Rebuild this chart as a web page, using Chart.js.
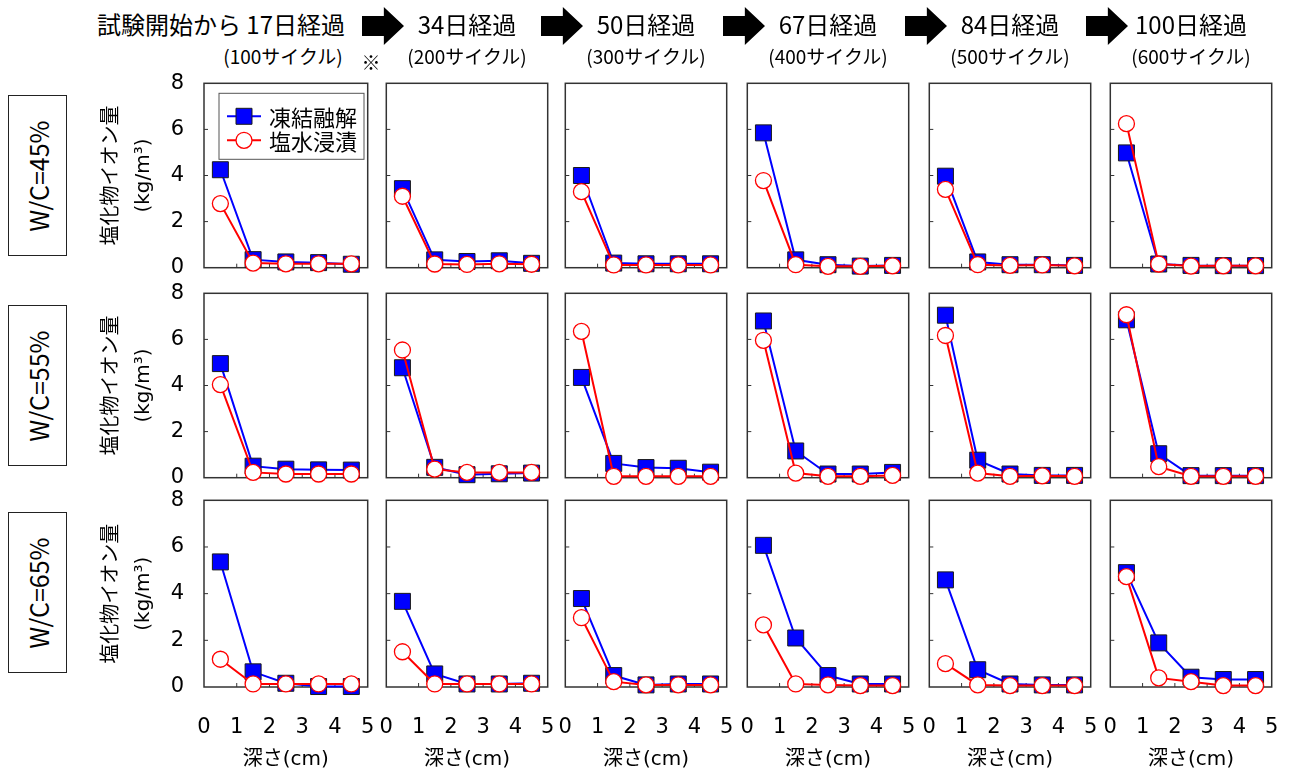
<!DOCTYPE html>
<html lang="ja">
<head>
<meta charset="utf-8">
<title>塩化物イオン量の深さ分布</title>
<script src="https://cdn.jsdelivr.net/npm/chart.js@4.4.0/dist/chart.umd.min.js"></script>
<style>
  html, body { margin: 0; padding: 0; background: #fff; }
  #page { position: relative; width: 1289px; height: 773px; overflow: hidden;
          font-family: 'Noto Sans CJK JP', sans-serif; color: #000; }
  #page canvas { position: absolute; }
  .hd { position: absolute; white-space: nowrap; line-height: 30px; }
  .hd1 { font-size: 24px; }
  .hd2 { font-size: 19px; }
  .arrow { position: absolute; width: 42px; height: 38px; background: #000;
           clip-path: polygon(0 24%, 52% 24%, 52% 0, 100% 50%, 52% 100%, 52% 76%, 0 76%); }
  .wc { position: absolute; left: 8px; width: 59px; height: 161px; border: 1.5px solid #222; box-sizing: border-box; }
  .wc span { position: absolute; left: 50%; top: 50%; transform: translate(-50%, -50%) rotate(-90deg);
             font: 25px 'Noto Sans CJK JP', sans-serif; white-space: nowrap; }
</style>
</head>
<body>
<div id="page"></div>
<script>
// ---- data ----
const depths = [0.5, 1.5, 2.5, 3.5, 4.5];          // 深さ (cm)
const elapsedDays = ['17', '34', '50', '67', '84', '100'];
const cycleCounts = ['100', '200', '300', '400', '500', '600'];
const wcLabels = ['W/C=45%', 'W/C=55%', 'W/C=65%'];
const seriesNames = ['凍結融解', '塩水浸漬'];

// 凍結融解 (blue squares), one array per elapsed period
const freezeThaw45 = [
  [4.25, 0.35, 0.25, 0.22, 0.15],
  [3.43, 0.34, 0.27, 0.30, 0.19],
  [4.00, 0.20, 0.17, 0.17, 0.17],
  [5.85, 0.34, 0.13, 0.07, 0.10],
  [3.97, 0.25, 0.13, 0.13, 0.10],
  [4.98, 0.16, 0.10, 0.09, 0.09]
];
const freezeThaw55 = [
  [4.95, 0.50, 0.37, 0.34, 0.33],
  [4.77, 0.45, 0.13, 0.17, 0.20],
  [4.35, 0.62, 0.44, 0.41, 0.24],
  [6.80, 1.16, 0.16, 0.16, 0.23],
  [7.05, 0.76, 0.16, 0.10, 0.10],
  [6.85, 1.04, 0.09, 0.09, 0.09]
];
const freezeThaw65 = [
  [5.36, 0.65, 0.16, 0.02, 0.02],
  [3.67, 0.56, 0.13, 0.13, 0.16],
  [3.79, 0.49, 0.09, 0.13, 0.13],
  [6.07, 2.10, 0.49, 0.13, 0.13],
  [4.59, 0.74, 0.13, 0.09, 0.09],
  [4.90, 1.89, 0.42, 0.32, 0.32]
];

// 塩水浸漬 (red open circles)
const saltSoak45 = [
  [2.78, 0.20, 0.17, 0.17, 0.17],
  [3.10, 0.16, 0.14, 0.17, 0.15],
  [3.30, 0.12, 0.12, 0.12, 0.12],
  [3.78, 0.13, 0.06, 0.06, 0.08],
  [3.40, 0.13, 0.10, 0.12, 0.08],
  [6.25, 0.16, 0.07, 0.08, 0.08]
];
const saltSoak55 = [
  [4.04, 0.23, 0.16, 0.16, 0.16],
  [5.54, 0.37, 0.23, 0.23, 0.23],
  [6.35, 0.06, 0.06, 0.06, 0.06],
  [5.96, 0.20, 0.06, 0.06, 0.10],
  [6.17, 0.20, 0.06, 0.08, 0.06],
  [7.07, 0.48, 0.06, 0.06, 0.06]
];
const saltSoak65 = [
  [1.19, 0.13, 0.13, 0.13, 0.13],
  [1.51, 0.13, 0.13, 0.13, 0.13],
  [2.97, 0.23, 0.09, 0.09, 0.09],
  [2.66, 0.13, 0.09, 0.06, 0.06],
  [1.00, 0.09, 0.06, 0.06, 0.06],
  [4.73, 0.39, 0.23, 0.06, 0.06]
];

const freezeThaw = [freezeThaw45, freezeThaw55, freezeThaw65];
const saltSoak = [saltSoak45, saltSoak55, saltSoak65];

// ---- layout ----
const colLeft = [204, 384, 563, 745, 927, 1108];
const rowTop = [81, 291, 498];
const FRAME_W = 166, FRAME_H = 189;
const PAD = 10;
const Y_AXIS_W = 111, X_AXIS_H = 86;

Chart.defaults.font.family = "'DejaVu Sans', 'Noto Sans CJK JP', sans-serif";
Chart.defaults.color = '#000';

const page = document.getElementById('page');

// frame box + short inward tick marks
const framePlugin = {
  id: 'frame',
  beforeDatasetsDraw(chart) {
    const { ctx, chartArea: a, scales } = chart;
    ctx.save();
    ctx.strokeStyle = '#333';
    ctx.lineWidth = 1.5;
    ctx.strokeRect(a.left, a.top, a.right - a.left, a.bottom - a.top);
    ctx.lineWidth = 1;
    ctx.beginPath();
    scales.y.ticks.forEach(t => {
      const py = scales.y.getPixelForValue(t.value);
      if (py > a.top + 1 && py < a.bottom - 1) { ctx.moveTo(a.left, py); ctx.lineTo(a.left + 4, py); }
    });
    scales.x.ticks.forEach(t => {
      const px = scales.x.getPixelForValue(t.value);
      if (px > a.left + 1 && px < a.right - 1) { ctx.moveTo(px, a.bottom); ctx.lineTo(px, a.bottom - 4); }
    });
    ctx.stroke();
    ctx.restore();
  }
};

// legend box drawn inside the first panel
const panelLegend = {
  id: 'panelLegend',
  afterDatasetsDraw(chart, args, opts) {
    if (!opts.display) return;
    const { ctx, chartArea: a } = chart;
    const x0 = a.left + 15, y0 = a.top + 10, w = 145, h = 66;
    ctx.save();
    ctx.fillStyle = '#fff';
    ctx.fillRect(x0, y0, w, h);
    ctx.strokeStyle = '#555';
    ctx.lineWidth = 1;
    ctx.strokeRect(x0, y0, w, h);
    chart.data.datasets.forEach((ds, i) => {
      const cy = y0 + 23 + i * 24, mx = x0 + 25;
      ctx.strokeStyle = ds.borderColor;
      ctx.lineWidth = ds.borderWidth;
      ctx.beginPath(); ctx.moveTo(x0 + 8, cy); ctx.lineTo(x0 + 42, cy); ctx.stroke();
      ctx.fillStyle = ds.pointBackgroundColor;
      ctx.strokeStyle = ds.pointBorderColor;
      ctx.lineWidth = ds.pointBorderWidth;
      ctx.beginPath();
      if (ds.pointStyle === 'rect') {
        const s = ds.pointRadius * Math.SQRT1_2;
        ctx.rect(mx - s, cy - s, 2 * s, 2 * s);
      } else {
        ctx.arc(mx, cy, ds.pointRadius, 0, Math.PI * 2);
      }
      ctx.fill(); ctx.stroke();
      ctx.fillStyle = '#000';
      ctx.font = "22px 'Noto Sans CJK JP', sans-serif";
      ctx.textBaseline = 'middle';
      ctx.fillText(ds.label, x0 + 50, cy + 1);
    });
    ctx.restore();
  }
};

function makePanel(r, c) {
  const firstCol = c === 0, lastRow = r === 2;
  const yW = firstCol ? Y_AXIS_W : 0;
  const xH = lastRow ? X_AXIS_H : 0;
  const padL = firstCol ? 0 : PAD;
  const padB = lastRow ? 0 : PAD;
  const w = padL + yW + FRAME_W + PAD;
  const h = PAD + FRAME_H + xH + padB;

  const canvas = document.createElement('canvas');
  canvas.width = w; canvas.height = h;
  canvas.style.left = (colLeft[c] - yW - padL) + 'px';
  canvas.style.top = (rowTop[r] - PAD) + 'px';
  canvas.style.width = w + 'px'; canvas.style.height = h + 'px';
  page.appendChild(canvas);

  new Chart(canvas, {
    type: 'line',
    data: {
      datasets: [
        {
          label: seriesNames[0],
          data: depths.map((d, i) => ({ x: d, y: freezeThaw[r][c][i] })),
          borderColor: '#0000FF', borderWidth: 2,
          pointStyle: 'rect', pointRadius: 11.3,
          pointBackgroundColor: '#0000FF', pointBorderColor: '#1a1a1a', pointBorderWidth: 1,
          clip: false, order: 1
        },
        {
          label: seriesNames[1],
          data: depths.map((d, i) => ({ x: d, y: saltSoak[r][c][i] })),
          borderColor: '#FF0000', borderWidth: 2,
          pointStyle: 'circle', pointRadius: 8,
          pointBackgroundColor: '#FFFFFF', pointBorderColor: '#FF0000', pointBorderWidth: 1.3,
          clip: false, order: 0
        }
      ]
    },
    options: {
      responsive: false,
      animation: false,
      events: [],
      layout: { padding: { left: padL, right: PAD, top: PAD, bottom: padB } },
      plugins: {
        legend: { display: false },
        tooltip: { enabled: false },
        panelLegend: { display: r === 0 && c === 0 }
      },
      scales: {
        x: {
          type: 'linear', min: 0, max: 5,
          grid: { display: false }, border: { display: false },
          ticks: { display: lastRow, stepSize: 1, padding: 20, maxRotation: 0, autoSkip: false,
                   font: { size: 21 } },
          title: { display: lastRow, text: '深さ(cm)', font: { size: 20 }, padding: { top: 0, bottom: 1 } },
          afterFit(s) { s.height = xH; s.paddingLeft = 0; s.paddingRight = 0; }
        },
        y: {
          type: 'linear', min: 0, max: 8,
          grid: { display: false }, border: { display: false },
          ticks: { display: firstCol, stepSize: 2, padding: 12, font: { size: 21 } },
          title: { display: firstCol, text: ['塩化物イオン量', '(kg/m³)'],
                   font: { size: 20, lineHeight: '32px' }, padding: { top: 3, bottom: 0 } },
          afterFit(s) { s.width = yW; s.paddingTop = 0; s.paddingBottom = 0; }
        }
      }
    },
    plugins: [framePlugin, panelLegend]
  });
}

for (let r = 0; r < 3; r++) {
  for (let c = 0; c < 6; c++) makePanel(r, c);
}

// ---- header: elapsed days, cycles, arrows ----
function addText(cls, text, left, top, width, align) {
  const d = document.createElement('div');
  d.className = 'hd ' + cls;
  d.textContent = text;
  d.style.left = left + 'px';
  d.style.top = top + 'px';
  d.style.width = width + 'px';
  d.style.textAlign = align;
  page.appendChild(d);
}

elapsedDays.forEach((days, c) => {
  const cx = colLeft[c] + FRAME_W / 2;
  if (c === 0) {
    addText('hd1', '試験開始から ' + days + '日経過', 0, 9, 345, 'right');
  } else {
    addText('hd1', days + '日経過', cx - 100, 9, 200, 'center');
    const a = document.createElement('div');
    a.className = 'arrow';
    a.style.left = (colLeft[c] - 22) + 'px';
    a.style.top = '7px';
    page.appendChild(a);
  }
  addText('hd2', '(' + cycleCounts[c] + 'サイクル)', cx - 100 - (c === 0 ? 4 : 0), 41, 200, 'center');
});
addText('hd2', '※', 359, 47, 24, 'center');

// ---- W/C row labels ----
wcLabels.forEach((txt, r) => {
  const box = document.createElement('div');
  box.className = 'wc';
  box.style.top = (rowTop[r] + FRAME_H / 2 - 80.5) + 'px';
  const s = document.createElement('span');
  s.textContent = txt;
  box.appendChild(s);
  page.appendChild(box);
});
</script>
</body>
</html>
